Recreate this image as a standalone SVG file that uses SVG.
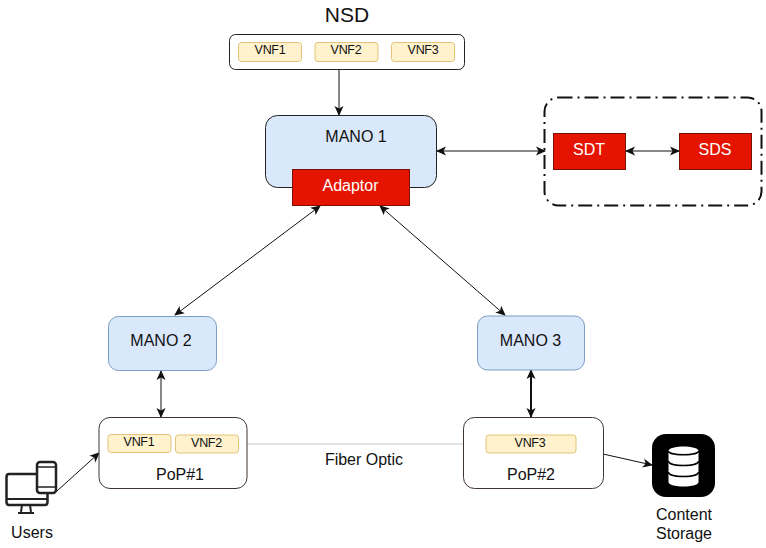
<svg xmlns="http://www.w3.org/2000/svg" width="766" height="548" viewBox="0 0 766 548">
<defs>
<marker id="a" viewBox="0 0 10 10" refX="9" refY="5" markerUnits="userSpaceOnUse" markerWidth="10" markerHeight="10" orient="auto-start-reverse"><path d="M0 0.500L10 5L0 9.500L2.500 5Z" fill="#111"/></marker>
</defs>
<style>
text{font-family:"Liberation Sans",Arial,sans-serif;fill:#111;text-anchor:middle}
.vnf{fill:#fff2cc;stroke:#e3c37a;stroke-width:1}
.v{font-size:12.5px;letter-spacing:-0.3px}
.l{font-size:16px}
.w{fill:#fff}
.red{fill:#e51400;stroke:#7a1208;stroke-width:1}
.blue{fill:#dae8fc;stroke:#7c9cc4;stroke-width:1}
.box{fill:#fff;stroke:#40352f;stroke-width:1}
.c{stroke:#111;stroke-width:1;fill:none;marker-end:url(#a)}
.b{marker-start:url(#a)}
</style>
<rect width="766" height="548" fill="#fff"/>
<g id="connectors">
<path d="M339 70V115" class="c"/>
<path d="M437 151H545" class="c b"/>
<path d="M626 151H679" class="c b"/>
<path d="M320 206L175 315" class="c b"/>
<path d="M380 206L505 315" class="c b"/>
<path d="M161 371V417" class="c b"/>
<path d="M531 370V417" class="c b" style="stroke-width:2"/>
<path d="M247 444H464" fill="none" stroke="#c8c8c8" stroke-width="1"/>
<path d="M57 491L99 453" class="c"/>
<path d="M603 454L652 465" class="c"/>
</g>
<text x="347" y="22" style="font-size:21px">NSD</text>
<g id="nsd">
<rect x="229.500" y="34.500" width="235" height="35" rx="6" fill="#fff" stroke="#222"/>
<rect x="238.500" y="42.500" width="63" height="19" rx="3" class="vnf"/><text x="270" y="54" class="v">VNF1</text>
<rect x="315" y="42.500" width="63" height="19" rx="3" class="vnf"/><text x="346" y="54" class="v">VNF2</text>
<rect x="391.500" y="42.500" width="63" height="19" rx="3" class="vnf"/><text x="423" y="54" class="v">VNF3</text>
</g>
<g id="mano1">
<rect x="265.500" y="115.500" width="171" height="72" rx="12" fill="#dae8fc" stroke="#222"/>
<text x="356" y="142" class="l">MANO 1</text>
</g>
<g id="adaptor">
<rect x="292.500" y="169.500" width="117" height="36" class="red"/>
<text x="350.500" y="191" class="l w">Adaptor</text>
</g>
<g id="sd-group">
<rect x="544.500" y="97.500" width="217" height="108" rx="14" fill="none" stroke="#111" stroke-width="2" stroke-dasharray="14 5 2 5"/>
</g>
<g id="sdt">
<rect x="553.500" y="133.500" width="72" height="36" class="red"/>
<text x="589" y="155" class="l w">SDT</text>
</g>
<g id="sds">
<rect x="679.500" y="133.500" width="72" height="36" class="red"/>
<text x="715" y="155" class="l w">SDS</text>
</g>
<g id="mano2">
<rect x="108.500" y="316.500" width="108" height="54" rx="10" class="blue"/>
<text x="161" y="346" class="l">MANO 2</text>
</g>
<g id="mano3">
<rect x="477.500" y="316" width="107" height="54" rx="10" class="blue"/>
<text x="530.500" y="346" class="l">MANO 3</text>
</g>
<g id="pop1">
<rect x="99" y="417.500" width="148" height="71" rx="11" class="box"/>
<rect x="108" y="434.500" width="63" height="18" rx="3" class="vnf"/><text x="139" y="446" class="v">VNF1</text>
<rect x="175.500" y="435" width="63" height="18" rx="3" class="vnf"/><text x="206.500" y="447" class="v">VNF2</text>
<text x="180" y="480" class="l">PoP#1</text>
</g>
<g id="pop2">
<rect x="463.500" y="417.500" width="140" height="71" rx="11" class="box"/>
<rect x="486" y="435" width="90" height="18" rx="3" class="vnf"/><text x="530" y="447" class="v">VNF3</text>
<text x="531" y="480" class="l">PoP#2</text>
</g>
<text x="364" y="465" class="l">Fiber Optic</text>
<g id="users">
<path d="M36 474H9Q6.500 474 6.500 477V502Q6.500 505 9 505H45Q47.500 505 47.500 502V494" fill="#fff" stroke="#222" stroke-width="2.500"/>
<path d="M7 499H47" stroke="#222" stroke-width="2"/>
<path d="M22 505L21 512M30 505L31 512M18 513H34" fill="none" stroke="#222" stroke-width="2"/>
<rect x="37" y="462" width="19" height="31" rx="3" fill="#fff" stroke="#222" stroke-width="2.500"/>
<path d="M37 467H56M37 487H56" stroke="#222" stroke-width="1.500"/>
<text x="32" y="538" class="l">Users</text>
</g>
<g id="content-storage">
<rect x="652" y="434" width="63" height="63" rx="14" fill="#000"/>
<path d="M668.500 451C668.500 445 698.500 445 698.500 451V482C698.500 488 668.500 488 668.500 482Z" fill="#fff"/>
<path d="M668.500 451C668.500 456 698.500 456 698.500 451M668.500 461C668.500 467 698.500 467 698.500 461M668.500 472C668.500 478 698.500 478 698.500 472" fill="none" stroke="#000" stroke-width="1.500"/>
<text x="684" y="520" class="l">Content</text>
<text x="684" y="539" class="l">Storage</text>
</g>
</svg>
